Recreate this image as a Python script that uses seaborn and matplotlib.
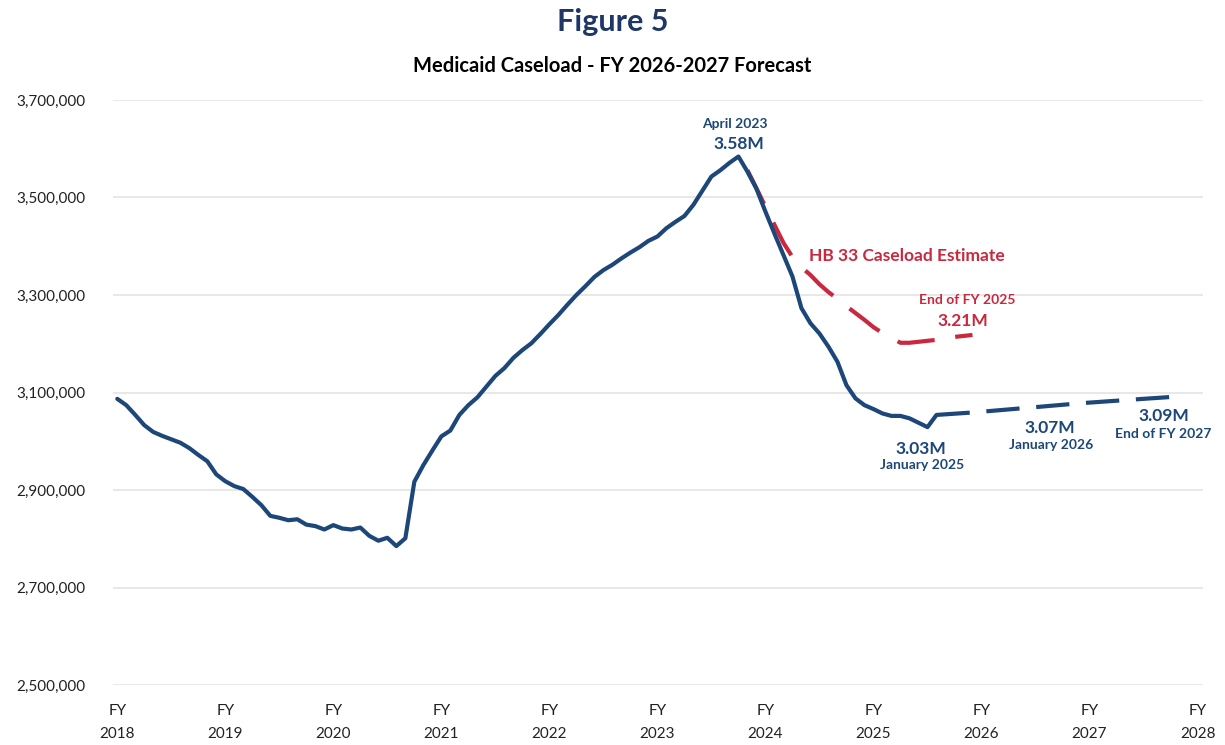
import matplotlib.pyplot as plt
import seaborn as sns
import numpy as np
import pandas as pd

# actual monthly caseload, July 2017 (start of FY 2018) .. February 2025, in millions
actual = [
    3.087, 3.074, 3.054, 3.033, 3.019, 3.011, 3.004, 2.997, 2.986, 2.972, 2.959, 2.932,
    2.918, 2.908, 2.902, 2.886, 2.869, 2.847, 2.843, 2.838, 2.840, 2.829, 2.826, 2.819,
    2.828, 2.821, 2.819, 2.823, 2.806, 2.796, 2.802, 2.785, 2.801, 2.917, 2.951, 2.981,
    3.010, 3.022, 3.054, 3.074, 3.090, 3.112, 3.134, 3.150, 3.171, 3.187, 3.201, 3.220,
    3.240, 3.259, 3.280, 3.300, 3.318, 3.337, 3.351, 3.362, 3.375, 3.387, 3.398, 3.411,
    3.420, 3.437, 3.450, 3.462, 3.485, 3.514, 3.543, 3.556, 3.571, 3.584, 3.553, 3.518,
    3.471, 3.426, 3.382, 3.338, 3.273, 3.242, 3.221, 3.194, 3.163, 3.115, 3.088, 3.074,
    3.066, 3.057, 3.052, 3.052, 3.047, 3.038, 3.029, 3.054,
]

# forecast (month index counted from July 2017)
forecast_month = [91, 95, 102, 107, 114, 118]
forecast = [3.054, 3.059, 3.070, 3.078, 3.087, 3.092]

# HB 33 estimate, May 2023 .. June 2025
hb33_start = 70
hb33 = [
    3.556, 3.519, 3.481, 3.444, 3.407, 3.378, 3.357, 3.341, 3.322, 3.306, 3.292, 3.277,
    3.263, 3.249, 3.234, 3.222, 3.212, 3.202, 3.202, 3.204, 3.206, 3.208, 3.212, 3.214,
    3.216, 3.218,
]

years = list(range(2018, 2029))
tick_labels = [f"FY\n{y}" for y in years]

BLUE = "#1C4778"
RED = "#C9283E"
NAVY = "#1F3765"

df_act = pd.DataFrame({"x": 2018 + np.arange(len(actual)) / 12,
                       "v": np.array(actual) * 1e6})
df_fc = pd.DataFrame({"x": 2018 + np.array(forecast_month) / 12,
                      "v": np.array(forecast) * 1e6})
df_hb = pd.DataFrame({"x": 2018 + (hb33_start + np.arange(len(hb33))) / 12,
                      "v": np.array(hb33) * 1e6})

sns.set_theme(style="white")
plt.rcParams["font.family"] = ["Lato", "DejaVu Sans"]

fig = plt.figure(figsize=(12.25, 7.45), dpi=100)
ax = fig.add_axes([0.0922, 0.0805, 0.8898, 0.7853])

sns.lineplot(data=df_hb, x="x", y="v", ax=ax, color=RED, lw=3,
             dashes=False, linestyle=(0, (9, 5)), zorder=3)
sns.lineplot(data=df_act, x="x", y="v", ax=ax, color=BLUE, lw=3, zorder=4)
sns.lineplot(data=df_fc, x="x", y="v", ax=ax, color=BLUE, lw=3,
             linestyle=(0, (8, 4)), zorder=4)

ax.set_xlim(2017.96, 2028.05)
ax.set_ylim(2.5e6, 3.7e6)
ax.set_yticks(np.arange(2.5e6, 3.71e6, 2e5))
ax.set_yticklabels([f"{int(v):,}" for v in np.arange(2.5e6, 3.71e6, 2e5)])
ax.set_xticks(years)
ax.set_xticklabels(tick_labels, linespacing=1.75)
ax.tick_params(axis="both", length=0, labelsize=11, colors="#222222")
ax.tick_params(axis="x", pad=14)
ax.tick_params(axis="y", pad=20)
ax.yaxis.grid(True, color="#E4E4E4", lw=1.2)
ax.xaxis.grid(False)
for s in ax.spines.values():
    s.set_visible(False)
ax.set_xlabel("")
ax.set_ylabel("")

fig.text(0.5, 0.97, "Figure 5", ha="center", va="center",
         fontsize=22, fontweight="bold", color=NAVY)
fig.text(0.5, 0.911, "Medicaid Caseload - FY 2026-2027 Forecast", ha="center",
         va="center", fontsize=14.5, fontweight="bold", color="black")

def note(x, y, s, color, size, ha="center"):
    ax.text(x, y, s, ha=ha, va="center", fontsize=size, fontweight="bold", color=color)

note(2023.72, 3.651e6, "April 2023", BLUE, 10)
note(2023.75, 3.610e6, "3.58M", BLUE, 12.5)
note(2024.40, 3.380e6, "HB 33 Caseload Estimate", RED, 12.5, ha="left")
note(2025.87, 3.290e6, "End of FY 2025", RED, 10)
note(2025.83, 3.247e6, "3.21M", RED, 12.5)
note(2025.435, 2.984e6, "3.03M", BLUE, 12.5)
note(2025.45, 2.951e6, "January 2025", BLUE, 10)
note(2026.63, 3.027e6, "3.07M", BLUE, 12.5)
note(2026.64, 2.992e6, "January 2026", BLUE, 10)
note(2027.69, 3.052e6, "3.09M", BLUE, 12.5)
note(2027.68, 3.015e6, "End of FY 2027", BLUE, 10)

plt.savefig("out.png", dpi=100)
